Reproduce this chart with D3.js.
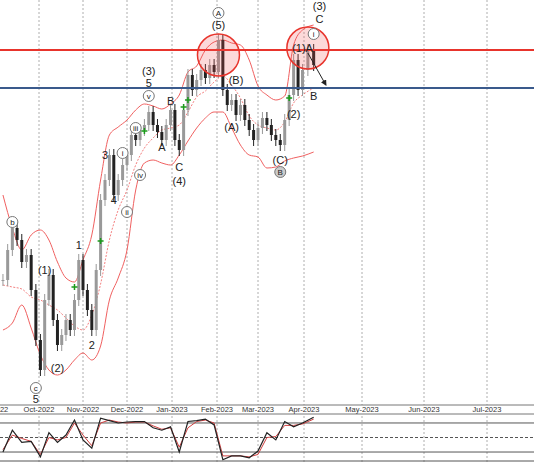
<!DOCTYPE html>
<html><head><meta charset="utf-8">
<script src="https://cdn.jsdelivr.net/npm/d3@7"></script>
<style>body{margin:0;background:#fff}text{font-family:Arial,"Liberation Sans",sans-serif}</style>
</head><body><div id="chart"></div>
<script>
// ---- data ----
var startDate = new Date(2022, 8, 8);
var stepDays = 3;
var closes = [125,155,177,165,143,150,115,65,35,105,130,85,60,70,85,75,105,145,115,95,75,135,205,225,250,210,225,240,250,270,265,275,280,293,280,273,265,280,295,265,255,295,330,315,325,335,327,340,333,365,315,300,305,290,300,285,275,265,277,287,280,270,265,260,285,310,345,315,335,355,340];
var upper = [210,177,155,170,175,165,143,127,123,145,170,225,270,278,285,295,301,299,296,301,310,333,339,355,363,365,362,360,345,319,310,305,309,360,375,380];
var middle = [120,118,116,108,105,100,95,87,79,75,90,121,165,195,215,240,257,267,275,277,280,293,308,314,323,329,320,307,289,280,277,275,283,302,310,317];
var lower = [75,82,100,77,50,35,30,35,45,52,45,59,105,127,155,215,242,245,242,240,250,264,277,287,293,293,277,260,250,248,237,238,244,247,249,253];
var oscMain = [20,65,40,42,10,60,40,55,86,45,28,90,85,80,82,83,83,70,65,72,20,83,85,88,76,4,12,12,8,22,60,45,83,72,80,92];
var oscSignal = [25,55,48,42,15,50,45,50,80,55,33,80,86,82,80,82,82,74,67,70,30,70,83,86,80,12,12,12,10,15,50,52,75,75,78,88];
var redLevel = 355, blueLevel = 317;
var monthTicks = ["Sep-2022","Oct-2022","Nov-2022","Dec-2022","Jan-2023","Feb-2023","Mar-2023","Apr-2023","May-2023","Jun-2023","Jul-2023"];
// wave labels: [bar, value, text, circled]
var waveLabels = [
  [2,183,"b",1],[7,17,"c",1],[7,6,"5",0],[9,135,"(1)",0],[12,37,"(2)",0],
  [17,160,"1",0],[20,60,"2",0],[23,250,"3",0],[25,205,"4",0],
  [27,252,"i",1],[28,193,"ii",1],[30,277,"iii",1],[31,230,"iv",1],[33,309,"v",1],
  [33,322,"5",0],[33,334,"(3)",0],[36,258,"A",0],[38,304,"B",0],[40,238,"C",0],[40,224,"(4)",0],
  [49,380,"(5)",0],[49,392,"A",1],[53,325,"(B)",0],[52,278,"(A)",0],
  [63,245,"(C)",0],[63,233,"B",2],[66,291,"(2)",0],[68,357,"(1)A",0],
  [70,371,"i",1],[71,386,"C",0],[71,399,"(3)",0],[70,309,"B",0]
];
var greenMarks = [[16,118],[22,164],[32,274],[41,298],[42,305],[65,307]];
var circles = [[49,350],[69,357]];

var W = 534, H = 462;
var svg = d3.select("#chart").append("svg").attr("width", W).attr("height", H);

function barDate(i) { return d3.timeDay.offset(startDate, i * stepDays); }

// piecewise time scale (past squeezed to trading days)
var x = d3.scaleTime()
  .domain([new Date(2022,8,1),new Date(2022,9,1),new Date(2022,10,1),new Date(2022,11,1),new Date(2023,0,1),new Date(2023,1,1),new Date(2023,2,1),new Date(2023,3,1),new Date(2023,4,1),new Date(2023,5,1),new Date(2023,6,1),new Date(2023,6,25)])
  .range([-8,39,83,127,172,217,258,304,362,424,487,534]);
var y = d3.scaleLinear().domain([0,405]).range([405,0]);
var yo = d3.scaleLinear().domain([0,100]).range([461.7,413.3]);
var tickDates = monthTicks.map(function(m, i){ return new Date(2022, 8 + i, 1); });

// grid
svg.append("g").selectAll("line").data(tickDates).enter().append("line")
  .attr("x1", d => x(d)).attr("x2", d => x(d)).attr("y1", 0).attr("y2", H)
  .attr("stroke", "#999").attr("stroke-dasharray", "2,2").attr("stroke-width", 0.8);

// bollinger bands
var bandLine = d3.line().x((d, i) => x(barDate(i * 2))).y(d => y(d)).curve(d3.curveMonotoneX);
[upper, lower].forEach(function(b){
  svg.append("path").attr("d", bandLine(b)).attr("fill","none").attr("stroke","#f06060").attr("stroke-width",1);
});
svg.append("path").attr("d", bandLine(middle)).attr("fill","none").attr("stroke","#f06060")
  .attr("stroke-width",0.8).attr("stroke-dasharray","2,1.5");

// candles
var bars = svg.append("g");
closes.forEach(function(c, i){
  var o = i > 0 ? closes[i-1] : c;
  var hi = Math.max(o, c) + 6, lo = Math.min(o, c) - 6;
  var cx = x(barDate(i)), col = c >= o ? "#999" : "#222";
  bars.append("line").attr("x1", cx).attr("x2", cx).attr("y1", y(hi)).attr("y2", y(lo))
    .attr("stroke", col).attr("stroke-width", 1);
  bars.append("rect").attr("x", cx - 1.5).attr("width", 3)
    .attr("y", y(Math.max(o, c))).attr("height", Math.max(1, y(Math.min(o, c)) - y(Math.max(o, c))))
    .attr("fill", col);
});

// green marks
svg.append("g").selectAll("path").data(greenMarks).enter().append("path")
  .attr("d", d => { var cx = x(barDate(d[0])), cy = y(d[1]); return "M"+(cx-3)+","+cy+"h6M"+cx+","+(cy-3)+"v6"; })
  .attr("stroke", "#1a9a1a").attr("stroke-width", 1.5);

// levels
svg.append("line").attr("x1",0).attr("x2",W).attr("y1",y(redLevel)).attr("y2",y(redLevel)).attr("stroke","#e8342c").attr("stroke-width",2);
svg.append("line").attr("x1",0).attr("x2",W).attr("y1",y(blueLevel)).attr("y2",y(blueLevel)).attr("stroke","#3a5a8c").attr("stroke-width",2);

// circles
svg.append("g").selectAll("circle").data(circles).enter().append("circle")
  .attr("cx", d => x(barDate(d[0]))).attr("cy", d => y(d[1])).attr("r", 21)
  .attr("fill", "rgba(240,80,80,0.22)").attr("stroke", "#e8342c").attr("stroke-width", 1.5);

// arrow
svg.append("defs").append("marker").attr("id","ah").attr("viewBox","0 0 10 10").attr("refX",8).attr("refY",5)
  .attr("markerWidth",6).attr("markerHeight",6).attr("orient","auto")
  .append("path").attr("d","M0,0L10,5L0,10z").attr("fill","#222");
svg.append("line").attr("x1", x(barDate(69))).attr("y1", y(352)).attr("x2", x(barDate(69)) + 18).attr("y2", y(320))
  .attr("stroke","#222").attr("stroke-width",1).attr("marker-end","url(#ah)");

// wave labels
var lg = svg.append("g");
waveLabels.forEach(function(l){
  var cx = x(barDate(l[0])), cy = y(l[1]);
  if (l[3]) {
    lg.append("circle").attr("cx", cx).attr("cy", cy).attr("r", 5.5)
      .attr("fill", l[3] == 2 ? "#ccc" : "#fff").attr("stroke", "#777").attr("stroke-width", 1);
  }
  lg.append("text").attr("x", cx).attr("y", cy).attr("dy", "0.35em").attr("text-anchor", "middle")
    .attr("font-size", l[3] ? 8 : 11).attr("fill", "#222").text(l[2]);
});

// date axis strip
svg.append("rect").attr("x",0).attr("y",405).attr("width",W).attr("height",9).attr("fill","#fff");
svg.append("line").attr("x1",0).attr("x2",W).attr("y1",405).attr("y2",405).attr("stroke","#777");
svg.append("line").attr("x1",0).attr("x2",W).attr("y1",414).attr("y2",414).attr("stroke","#777");
svg.append("g").selectAll("text").data(tickDates).enter().append("text")
  .attr("x", d => x(d)).attr("y", 412).attr("text-anchor","middle").attr("font-size",7.5).attr("fill","#333")
  .text((d, i) => monthTicks[i]);

// oscillator
[[80,"none"],[50,"3,2"],[20,"none"]].forEach(function(r){
  svg.append("line").attr("x1",0).attr("x2",W).attr("y1",yo(r[0])).attr("y2",yo(r[0]))
    .attr("stroke","#555").attr("stroke-dasharray",r[1]);
});
var oscLine = d3.line().x((d, i) => x(barDate(i * 2))).y(d => yo(d));
svg.append("path").attr("d", oscLine(oscSignal)).attr("fill","none").attr("stroke","#d04040").attr("stroke-width",1);
svg.append("path").attr("d", oscLine(oscMain)).attr("fill","none").attr("stroke","#222").attr("stroke-width",1.2);
svg.append("line").attr("x1",0).attr("x2",W).attr("y1",461).attr("y2",461).attr("stroke","#555");
</script></body></html>
